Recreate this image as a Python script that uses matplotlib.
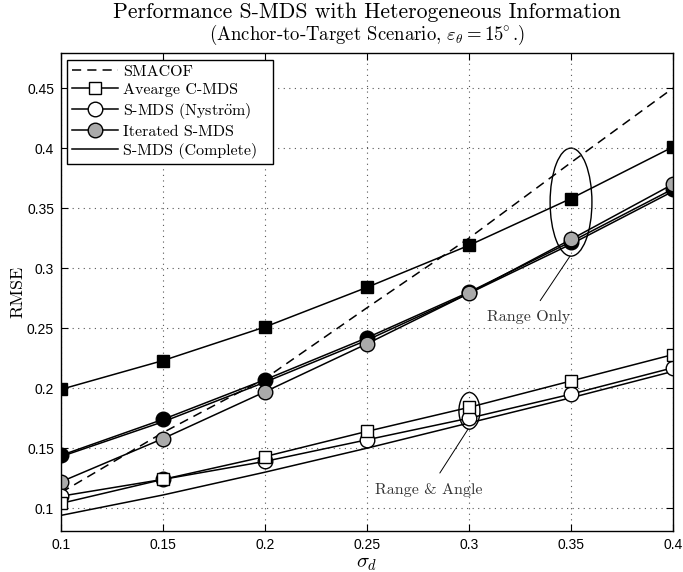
import matplotlib
matplotlib.use("Agg")
import matplotlib.pyplot as plt
from matplotlib.patches import Ellipse

plt.rcParams['mathtext.fontset'] = 'cm'
SERIF = ['cmr10', 'DejaVu Serif']
SANS = ['Liberation Sans', 'DejaVu Sans']

sigma = [0.1, 0.15, 0.2, 0.25, 0.3, 0.35, 0.4]
xticks = [0.1, 0.15, 0.2, 0.25, 0.3, 0.35, 0.4]
yticks = [0.1, 0.15, 0.2, 0.25, 0.3, 0.35, 0.4, 0.45]

smacof = [0.113, 0.163, 0.208, 0.267, 0.325, 0.388, 0.450]
# Range only
avg_cmds_r = [0.199, 0.223, 0.251, 0.284, 0.319, 0.358, 0.401]
nystrom_r = [0.144, 0.174, 0.207, 0.242, 0.280, 0.322, 0.366]
iterated_r = [0.122, 0.158, 0.197, 0.237, 0.279, 0.324, 0.370]
complete_r = [0.143, 0.172, 0.205, 0.240, 0.279, 0.320, 0.364]
# Range & angle
avg_cmds_ra = [0.104, 0.124, 0.143, 0.164, 0.184, 0.206, 0.228]
nystrom_ra = [0.110, 0.124, 0.139, 0.157, 0.175, 0.195, 0.217]
complete_ra = [0.094, 0.111, 0.130, 0.150, 0.171, 0.192, 0.214]

labels = ['SMACOF', 'Avearge C-MDS', r'S-MDS (Nystr$\ddot{\mathrm{o}}$m)', 'Iterated S-MDS',
          'S-MDS (Complete)']
title1 = 'Performance S-MDS with Heterogeneous Information'
title2 = r'(Anchor-to-Target Scenario, $\varepsilon_\theta = 15^{\!\!\circ}$.)'

GRAY = '#aaaaaa'
MS_SQ = 9
MS_CI = 10.5

fig = plt.figure(figsize=(6.83, 5.72), dpi=100)
ax = fig.add_axes([0.0893, 0.0717, 0.8961, 0.8351])

lw = 1.1
ax.plot(sigma, smacof, 'k--', lw=lw, dashes=(6, 4), label=labels[0])
# range only
ax.plot(sigma, complete_r, 'k-', lw=lw)
ax.plot(sigma, avg_cmds_r, 'k-', lw=lw, marker='s', ms=MS_SQ, mfc='k', mec='k')
ax.plot(sigma, nystrom_r, 'k-', lw=lw, marker='o', ms=MS_CI, mfc='k', mec='k')
ax.plot(sigma, iterated_r, 'k-', lw=lw, marker='o', ms=MS_CI, mfc=GRAY, mec='k', label=labels[3])
# range & angle
ax.plot(sigma, complete_ra, 'k-', lw=lw, label=labels[4])
ax.plot(sigma, nystrom_ra, 'k-', lw=lw, marker='o', ms=MS_CI, mfc='w', mec='k', label=labels[2])
ax.plot(sigma, avg_cmds_ra, 'k-', lw=lw, marker='s', ms=MS_SQ, mfc='w', mec='k', label=labels[1])

ax.set_xlim(0.1, 0.4)
ax.set_ylim(0.081, 0.479)
ax.set_xticks(xticks)
ax.set_yticks(yticks)
ax.set_xticklabels([f'{v:g}' for v in xticks], family=SANS, fontsize=10)
ax.set_yticklabels([f'{v:g}' for v in yticks], family=SANS, fontsize=10)
ax.tick_params(direction='in', top=True, right=True, length=5, width=0.8, pad=5)
ax.grid(True, ls=(0, (1, 4)), color='#555555', lw=0.8)
for s in ax.spines.values():
    s.set_linewidth(1.0)

ax.set_xlabel(r'$\sigma_d$', fontsize=15, labelpad=1)
ax.set_ylabel('RMSE', family=SERIF, fontsize=13, labelpad=1)

fig.text(0.537, 0.978, title1, family=SERIF, fontsize=15.6, ha='center', va='center')
fig.text(0.537, 0.939, title2, family=SERIF, fontsize=13.5, ha='center', va='center')

# annotations
ax.add_patch(Ellipse((0.35, 0.355), 0.0205, 0.09, fill=False, ec='k', lw=1.0))
ax.annotate('Range Only', xy=(0.3495, 0.310), xytext=(0.3294, 0.259),
            family=SERIF, fontsize=11.5, color='#333333', ha='center', va='center',
            arrowprops=dict(arrowstyle='-', color='k', lw=0.7, shrinkA=6, shrinkB=0))
ax.add_patch(Ellipse((0.3002, 0.1811), 0.0103, 0.0306, fill=False, ec='k', lw=1.0))
ax.annotate('Range & Angle', xy=(0.2995, 0.1658), xytext=(0.2804, 0.1153),
            family=SERIF, fontsize=11.5, color='#333333', ha='center', va='center',
            arrowprops=dict(arrowstyle='-', color='k', lw=0.7, shrinkA=6, shrinkB=0))

h, l = ax.get_legend_handles_labels()
order = [l.index(x) for x in labels]
leg_labels = [l[i] for i in order]
leg_labels[-1] = leg_labels[-1] + '  '
leg = ax.legend([h[i] for i in order], leg_labels, loc='upper left',
                prop={'family': SERIF, 'size': 11.5}, fancybox=False, framealpha=1,
                edgecolor='k', borderaxespad=0.4, labelspacing=0.25, handlelength=2.9,
                handletextpad=0.3, borderpad=0.3)
leg.get_frame().set_linewidth(1.0)

fig.savefig('out.png', dpi=100)
